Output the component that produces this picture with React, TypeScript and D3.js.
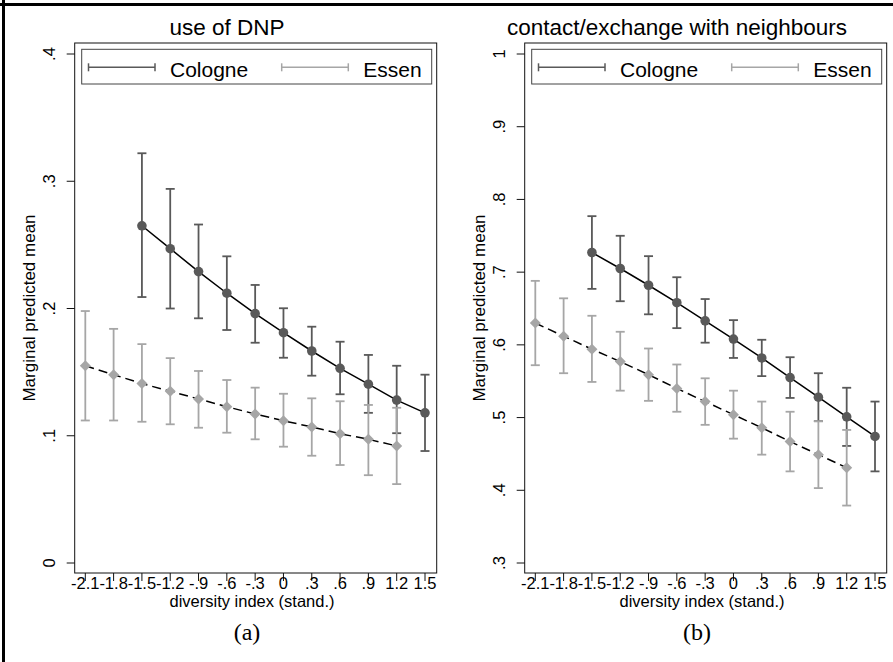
import React from 'react';
import * as d3 from 'd3';

const X_TICKS = [-2.1, -1.8, -1.5, -1.2, -0.9, -0.6, -0.3, 0, 0.3, 0.6, 0.9, 1.2, 1.5];
const X_TICK_LABELS = ['-2.1', '-1.8', '-1.5', '-1.2', '-.9', '-.6', '-.3', '0', '.3', '.6', '.9', '1.2', '1.5'];
const COLOGNE_X = [-1.5, -1.2, -0.9, -0.6, -0.3, 0, 0.3, 0.6, 0.9, 1.2, 1.5];
const ESSEN_X = [-2.1, -1.8, -1.5, -1.2, -0.9, -0.6, -0.3, 0, 0.3, 0.6, 0.9, 1.2];

// Panel (a): use of DNP
const A_Y_TICKS = [0, 0.1, 0.2, 0.3, 0.4];
const A_Y_LABELS = ['0', '.1', '.2', '.3', '.4'];
const A_COLOGNE_MEAN = [0.265, 0.247, 0.229, 0.212, 0.196, 0.181, 0.1666, 0.153, 0.1405, 0.128, 0.118];
const A_COLOGNE_LO = [0.209, 0.200, 0.1923, 0.1831, 0.1731, 0.1613, 0.1472, 0.1326, 0.118, 0.102, 0.088];
const A_COLOGNE_HI = [0.322, 0.294, 0.266, 0.241, 0.2185, 0.2002, 0.1857, 0.1739, 0.1635, 0.155, 0.148];
const A_ESSEN_MEAN = [0.155, 0.148, 0.141, 0.135, 0.1289, 0.1228, 0.1171, 0.1118, 0.1069, 0.1016, 0.0972, 0.092];
const A_ESSEN_LO = [0.112, 0.112, 0.111, 0.109, 0.1063, 0.1024, 0.0972, 0.0914, 0.0843, 0.077, 0.069, 0.062];
const A_ESSEN_HI = [0.198, 0.184, 0.172, 0.161, 0.1509, 0.1438, 0.1378, 0.133, 0.1294, 0.1271, 0.1242, 0.122];

// Panel (b): contact/exchange with neighbours
const B_Y_TICKS = [0.3, 0.4, 0.5, 0.6, 0.7, 0.8, 0.9, 1];
const B_Y_LABELS = ['.3', '.4', '.5', '.6', '.7', '.8', '.9', '1'];
const B_COLOGNE_MEAN = [0.727, 0.705, 0.682, 0.658, 0.633, 0.608, 0.582, 0.555, 0.528, 0.501, 0.474];
const B_COLOGNE_LO = [0.677, 0.660, 0.642, 0.623, 0.603, 0.582, 0.557, 0.527, 0.495, 0.461, 0.426];
const B_COLOGNE_HI = [0.777, 0.750, 0.722, 0.693, 0.663, 0.634, 0.607, 0.583, 0.561, 0.541, 0.522];
const B_ESSEN_MEAN = [0.630, 0.612, 0.594, 0.577, 0.559, 0.540, 0.522, 0.504, 0.486, 0.467, 0.449, 0.431];
const B_ESSEN_LO = [0.572, 0.561, 0.549, 0.537, 0.523, 0.508, 0.490, 0.471, 0.449, 0.426, 0.403, 0.379];
const B_ESSEN_HI = [0.688, 0.664, 0.640, 0.618, 0.595, 0.573, 0.554, 0.537, 0.522, 0.508, 0.495, 0.483];

const SANS = 'Liberation Sans, Arial, Helvetica, sans-serif';
const SERIF = 'Liberation Serif, Times New Roman, serif';
const COLOGNE_COLOR = '#595959';
const ESSEN_COLOR = '#a6a6a6';

type Series = { xs: number[]; mean: number[]; lo: number[]; hi: number[] };

type PanelProps = {
  dx: number;
  title: string;
  caption: string;
  yDomain: [number, number];
  yTicks: number[];
  yLabels: string[];
  cologne: Series;
  essen: Series;
};

function Panel({ dx, title, caption, yDomain, yTicks, yLabels, cologne, essen }: PanelProps) {
  const frameL = 74.7 + dx;
  const frameR = 436.7 + dx;
  const frameT = 43;
  const frameB = 573;
  const x = d3.scaleLinear().domain([-2.1, 1.5]).range([85.3 + dx, 425 + dx]);
  const y = d3.scaleLinear().domain(yDomain).range([563, 54]);

  const mkLine = (s: Series) =>
    d3
      .line<number>()
      .x((_, i) => x(s.xs[i]))
      .y((d) => y(d))(s.mean) || '';

  const cap = 4.5;
  const bars = (s: Series, color: string, key: string) =>
    s.xs.map((xv, i) => {
      const px = x(xv);
      const y1 = y(s.hi[i]);
      const y2 = y(s.lo[i]);
      return (
        <g key={key + i} stroke={color} strokeWidth={1.8} fill="none">
          <line x1={px} x2={px} y1={y1} y2={y2} />
          <line x1={px - cap} x2={px + cap} y1={y1} y2={y1} />
          <line x1={px - cap} x2={px + cap} y1={y2} y2={y2} />
        </g>
      );
    });

  const dia = 5.5;

  return (
    <g>
      {/* title */}
      <text x={227 + dx} y={35} textAnchor="middle" fontFamily={SANS} fontSize={22.5} fill="#000">
        {title}
      </text>
      {/* plot frame */}
      <rect x={frameL} y={frameT} width={frameR - frameL} height={frameB - frameT} fill="#fff" stroke="#111" strokeWidth={1} />
      {/* y ticks */}
      {yTicks.map((t, i) => (
        <g key={'yt' + i}>
          <line x1={frameL - 8} x2={frameL} y1={y(t)} y2={y(t)} stroke="#111" strokeWidth={1} />
          <text
            transform={`translate(${frameL - 20},${y(t)}) rotate(-90)`}
            textAnchor="middle"
            fontFamily={SANS}
            fontSize={16.5}
            fill="#000"
          >
            {yLabels[i]}
          </text>
        </g>
      ))}
      {/* x ticks */}
      {X_TICKS.map((t, i) => (
        <g key={'xt' + i}>
          <line x1={x(t)} x2={x(t)} y1={frameB} y2={frameB + 8} stroke="#111" strokeWidth={1} />
          <text x={x(t)} y={588.5} textAnchor="middle" fontFamily={SANS} fontSize={16.5} fill="#000">
            {X_TICK_LABELS[i]}
          </text>
        </g>
      ))}
      {/* axis titles */}
      <text x={252 + dx} y={606.5} textAnchor="middle" fontFamily={SANS} fontSize={16.5} fill="#000">
        diversity index (stand.)
      </text>
      <text
        transform={`translate(${34.5 + dx},${(frameT + frameB) / 2}) rotate(-90)`}
        textAnchor="middle"
        fontFamily={SANS}
        fontSize={17}
        fill="#000"
      >
        Marginal predicted mean
      </text>
      {/* caption */}
      <text x={247 + dx} y={640} textAnchor="middle" fontFamily={SERIF} fontSize={24} fill="#000">
        {caption}
      </text>

      {/* error bars */}
      {bars(cologne, COLOGNE_COLOR, 'cb')}
      {bars(essen, ESSEN_COLOR, 'eb')}
      {/* lines */}
      <path d={mkLine(cologne)} fill="none" stroke="#000" strokeWidth={1.5} />
      <path d={mkLine(essen)} fill="none" stroke="#000" strokeWidth={1.5} strokeDasharray="9,5" />
      {/* markers */}
      {cologne.xs.map((xv, i) => (
        <circle key={'cm' + i} cx={x(xv)} cy={y(cologne.mean[i])} r={4.8} fill={COLOGNE_COLOR} />
      ))}
      {essen.xs.map((xv, i) => {
        const px = x(xv);
        const py = y(essen.mean[i]);
        return (
          <path
            key={'em' + i}
            d={`M${px},${py - dia}L${px + dia},${py}L${px},${py + dia}L${px - dia},${py}Z`}
            fill={ESSEN_COLOR}
          />
        );
      })}

      {/* legend */}
      <rect x={81.7 + dx} y={49.3} width={350} height={34.7} fill="#fff" stroke="#444" strokeWidth={1} />
      <g stroke={COLOGNE_COLOR} strokeWidth={1.5}>
        <line x1={88.5 + dx} x2={155 + dx} y1={67.3} y2={67.3} />
        <line x1={88.5 + dx} x2={88.5 + dx} y1={63.3} y2={71.3} />
        <line x1={155 + dx} x2={155 + dx} y1={63.3} y2={71.3} />
      </g>
      <text x={170 + dx} y={76.5} fontFamily={SANS} fontSize={21} fill="#000">
        Cologne
      </text>
      <g stroke={ESSEN_COLOR} strokeWidth={1.5}>
        <line x1={281.7 + dx} x2={348.3 + dx} y1={67.3} y2={67.3} />
        <line x1={281.7 + dx} x2={281.7 + dx} y1={63.3} y2={71.3} />
        <line x1={348.3 + dx} x2={348.3 + dx} y1={63.3} y2={71.3} />
      </g>
      <text x={363.3 + dx} y={76.5} fontFamily={SANS} fontSize={21} fill="#000">
        Essen
      </text>
    </g>
  );
}

export default function App() {
  return (
    <svg
      width={893}
      height={662}
      viewBox="0 0 893 662"
      style={{ position: 'absolute', left: 0, top: 0, background: '#fff' }}
    >
      <rect x={0} y={0} width={893} height={662} fill="#fff" />
      <line x1={0} x2={893} y1={4.5} y2={4.5} stroke="#000" strokeWidth={3} />
      <line x1={3.5} x2={3.5} y1={0} y2={662} stroke="#000" strokeWidth={3} />
      <Panel
        dx={0}
        title="use of DNP"
        caption="(a)"
        yDomain={[0, 0.4]}
        yTicks={A_Y_TICKS}
        yLabels={A_Y_LABELS}
        cologne={{ xs: COLOGNE_X, mean: A_COLOGNE_MEAN, lo: A_COLOGNE_LO, hi: A_COLOGNE_HI }}
        essen={{ xs: ESSEN_X, mean: A_ESSEN_MEAN, lo: A_ESSEN_LO, hi: A_ESSEN_HI }}
      />
      <Panel
        dx={450}
        title="contact/exchange with neighbours"
        caption="(b)"
        yDomain={[0.3, 1]}
        yTicks={B_Y_TICKS}
        yLabels={B_Y_LABELS}
        cologne={{ xs: COLOGNE_X, mean: B_COLOGNE_MEAN, lo: B_COLOGNE_LO, hi: B_COLOGNE_HI }}
        essen={{ xs: ESSEN_X, mean: B_ESSEN_MEAN, lo: B_ESSEN_LO, hi: B_ESSEN_HI }}
      />
    </svg>
  );
}
